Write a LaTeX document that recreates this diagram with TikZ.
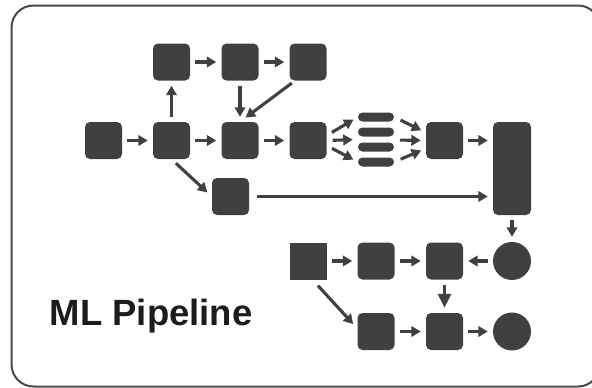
\documentclass[tikz,border=0pt]{standalone}
\usepackage{fontspec}
\setmainfont{Liberation Sans}
\usetikzlibrary{arrows.meta}
\definecolor{ink}{HTML}{404040}
\definecolor{framec}{HTML}{4A4A4A}
\definecolor{titlec}{HTML}{1C1C1C}
\tikzset{
  stage/.style={fill=ink, draw=none, inner sep=0pt, minimum size=37pt, rounded corners=5pt},
  plainstage/.style={fill=ink, draw=none, inner sep=0pt, minimum size=37pt},
  tallstage/.style={fill=ink, draw=none, inner sep=0pt, minimum width=38pt, minimum height=93pt, rounded corners=5pt},
  endpoint/.style={circle, fill=ink, draw=none, inner sep=0pt, minimum size=38pt},
  shard/.style={fill=ink, draw=none, inner sep=0pt, minimum width=36pt, minimum height=9pt, rounded corners=4.5pt},
  flow/.style={draw=ink, line width=3.1pt, -{Triangle[length=9.5pt,width=10.5pt]}, shorten <=5pt, shorten >=5pt},
  bigflow/.style={draw=ink, line width=3.1pt, -{Triangle[length=14pt,width=13pt]}, shorten <=5pt, shorten >=5pt},
}
\begin{document}
\begin{tikzpicture}[x=1pt, y=-1pt]
  \useasboundingbox (0,0) rectangle (592,388);
  % outer frame
  \draw[framec, line width=2pt, rounded corners=22pt] (11.5,5.5) rectangle (600,386.5);

  % upper branch
  \node[stage] (t1) at (171.5,62) {};
  \node[stage] (t2) at (240,62) {};
  \node[stage] (t3) at (308,62) {};

  % main row
  \node[stage] (m0) at (103.5,140.5) {};
  \node[stage] (m1) at (171.5,140.5) {};
  \node[stage] (m2) at (240,140.5) {};
  \node[stage] (m3) at (308,140.5) {};
  \node[shard] (p1) at (376,117) {};
  \node[shard] (p2) at (376,132) {};
  \node[shard] (p3) at (376,147) {};
  \node[shard] (p4) at (376,162) {};
  \coordinate (pmid) at (394,140);
  \node[stage] (m5) at (444.5,140.5) {};
  \node[tallstage] (sink) at (512,168.5) {};

  % side branch
  \node[stage] (side) at (230.5,196.5) {};

  % lower section
  \node[plainstage] (q0) at (308.5,261) {};
  \node[stage] (q1) at (376,261) {};
  \node[stage] (q2) at (444.5,261) {};
  \node[endpoint] (qc) at (512,261) {};
  \node[stage] (r1) at (376,331.5) {};
  \node[stage] (r2) at (444.5,331.5) {};
  \node[endpoint] (rc) at (512,331.5) {};

  % title
  \node[anchor=base west, inner sep=0pt, text=titlec, font=\fontsize{36.5pt}{40pt}\selectfont\bfseries] (title) at (49.5,325) {ML Pipeline};

  % connectors: upper branch
  \draw[flow] (t1) -- (t2);
  \draw[flow] (t2) -- (t3);
  \draw[flow] (m1) -- (t1);
  \draw[flow] (t2) -- (m2);
  \draw[flow, shorten >=7pt, shorten <=4pt] ([xshift=-13pt]t3.south) -- (m2.north);

  % connectors: main row
  \draw[flow] (m0) -- (m1);
  \draw[flow] (m1) -- (m2);
  \draw[flow] (m2) -- (m3);
  \draw[flow, shorten <=6pt] ([yshift=5pt]m3.east) -- (p1.west);
  \draw[flow, shorten <=6pt] (m3.east) -- ([yshift=0.5pt]p2.west |- pmid);
  \draw[flow, shorten <=6pt] ([yshift=-5pt]m3.east) -- (p4.west);
  \draw[flow, shorten <=7pt] (p1.east) -- ([yshift=8pt]m5.west);
  \draw[flow, shorten <=6pt] (pmid) -- (m5.west);
  \draw[flow, shorten <=7pt] (p4.east) -- ([yshift=-8pt]m5.west);
  \draw[flow] (m5) -- (m5 -| sink.west);

  % connectors: side branch
  \draw[flow, shorten <=6pt, shorten >=6pt] (m1.south) -- (side.west);
  \draw[flow, shorten <=8pt] (side.east) -- (side.east -| sink.west);

  % connectors: lower section
  \draw[flow] (sink) -- (qc);
  \draw[flow] (qc) -- (q2);
  \draw[flow] (q0) -- (q1);
  \draw[flow] (q1) -- (q2);
  \draw[bigflow] (q2) -- (r2);
  \draw[flow, shorten <=8pt, shorten >=6pt] ([xshift=4pt]q0.south) -- ([yshift=3pt]r1.west);
  \draw[flow] (r1) -- (r2);
  \draw[flow] (r2) -- (rc);
\end{tikzpicture}
\end{document}
